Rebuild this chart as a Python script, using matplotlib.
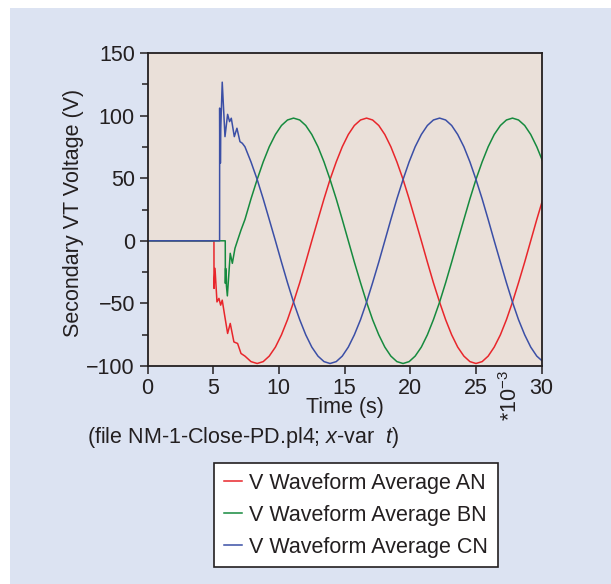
import matplotlib
matplotlib.use("Agg")
import matplotlib.pyplot as plt
from matplotlib.patches import Rectangle
from matplotlib.ticker import MultipleLocator

plt.rcParams["font.family"] = ["Liberation Sans", "DejaVu Sans"]
plt.rcParams["mathtext.fontset"] = "custom"
plt.rcParams["mathtext.rm"] = "Liberation Sans"
plt.rcParams["mathtext.it"] = "Liberation Sans:italic"

TEXT = "#231f20"
FS = 15.5

# Sample times (ms) of the settled 60 Hz part, shared by all three phases
t_steady = [7.42, 7.88, 8.35, 8.81, 9.27, 9.74, 10.20, 10.66, 11.12, 11.59,
            12.05, 12.51, 12.98, 13.44, 13.90, 14.37, 14.83, 15.29, 15.75, 16.22,
            16.68, 17.14, 17.61, 18.07, 18.53, 18.99, 19.46, 19.92, 20.38, 20.85,
            21.31, 21.77, 22.24, 22.70, 23.16, 23.62, 24.09, 24.55, 25.01, 25.48,
            25.94, 26.40, 26.87, 27.33, 27.79, 28.25, 28.72, 29.18, 29.64, 30.11]

# Phase A-N: breaker close transient, then steady state
t_an_start = [0, 5.06, 5.065, 5.14, 5.29, 5.44, 5.57, 5.69, 5.85, 6.10, 6.30,
              6.58, 6.86, 7.12]
v_an_start = [0, 0, -38, -22, -48.8, -46, -51.4, -47.4, -58, -74, -66,
              -80.8, -82, -90]
v_an_steady = [-92.1, -96.5, -98.0, -96.5, -92.1, -84.9, -75.1, -63.0, -49.0, -33.5,
               -17.0, 0.0, 17.0, 33.5, 49.0, 63.0, 75.1, 84.9, 92.1, 96.5,
               98.0, 96.5, 92.1, 84.9, 75.1, 63.0, 49.0, 33.5, 17.0, 0.0,
               -17.0, -33.5, -49.0, -63.0, -75.1, -84.9, -92.1, -96.5, -98.0, -96.5,
               -92.1, -84.9, -75.1, -63.0, -49.0, -33.5, -17.0, 0.0, 17.0, 33.5]

# Phase B-N
t_bn_start = [0, 5.92, 5.93, 5.95, 5.97, 5.99, 6.01, 6.08, 6.30, 6.46, 6.66,
              6.91, 7.12]
v_bn_start = [0, 0, -34, -22, -34, -24, -36, -44, -10, -18, -6, 2, 8.6]
v_bn_steady = [17.0, 33.5, 49.0, 63.0, 75.1, 84.9, 92.1, 96.5, 98.0, 96.5,
               92.1, 84.9, 75.1, 63.0, 49.0, 33.5, 17.0, 0.0, -17.0, -33.5,
               -49.0, -63.0, -75.1, -84.9, -92.1, -96.5, -98.0, -96.5, -92.1, -84.9,
               -75.1, -63.0, -49.0, -33.5, -17.0, 0.0, 17.0, 33.5, 49.0, 63.0,
               75.1, 84.9, 92.1, 96.5, 98.0, 96.5, 92.1, 84.9, 75.1, 63.0]

# Phase C-N
t_cn_start = [0, 5.49, 5.495, 5.51, 5.53, 5.55, 5.58, 5.69, 5.90, 6.10, 6.25,
              6.38, 6.61, 6.81, 7.04, 7.22]
v_cn_start = [0, 0, 106, 64, 100, 62, 90, 126.7, 83.2, 101, 95.2,
              97.9, 83.2, 89.9, 79.2, 77.9]
v_cn_steady = [75.1, 63.0, 49.0, 33.5, 17.0, 0.0, -17.0, -33.5, -49.0, -63.0,
               -75.1, -84.9, -92.1, -96.5, -98.0, -96.5, -92.1, -84.9, -75.1, -63.0,
               -49.0, -33.5, -17.0, 0.0, 17.0, 33.5, 49.0, 63.0, 75.1, 84.9,
               92.1, 96.5, 98.0, 96.5, 92.1, 84.9, 75.1, 63.0, 49.0, 33.5,
               17.0, 0.0, -17.0, -33.5, -49.0, -63.0, -75.1, -84.9, -92.1, -96.5]

labels = ["V Waveform Average AN", "V Waveform Average BN", "V Waveform Average CN"]
colors = ["#e8262b", "#168a3e", "#3b4fa6"]

x_ticks = [0, 5, 10, 15, 20, 25, 30]
y_ticks = [-100, -50, 0, 50, 100, 150]

W, H = 611, 584
fig = plt.figure(figsize=(W / 100, H / 100), dpi=100, facecolor="white")
fig.patches.append(Rectangle((10 / W, 0), 1 - 10 / W, 1 - 8 / H,
                             transform=fig.transFigure, facecolor="#dce3f2",
                             edgecolor="none", zorder=-10))

ax = fig.add_axes([147.5 / W, 218 / H, 394 / W, 313 / H])
ax.set_facecolor("#eae0d9")

series = [
    (t_an_start + t_steady, v_an_start + v_an_steady),
    (t_bn_start + t_steady, v_bn_start + v_bn_steady),
    (t_cn_start + t_steady, v_cn_start + v_cn_steady),
]
handles = []
for (t, v), c, lab in zip(series, colors, labels):
    h, = ax.plot(t, v, color=c, lw=1.1, label=lab)
    handles.append(h)

ax.set_xlim(0, 30)
ax.set_ylim(-100, 150)
ax.set_xticks(x_ticks)
ax.set_yticks(y_ticks)
ax.yaxis.set_minor_locator(MultipleLocator(25))
ax.tick_params(axis="both", which="major", direction="out", length=6, width=1.1,
               color=TEXT, labelcolor=TEXT, labelsize=FS, pad=3)
ax.tick_params(axis="y", which="minor", direction="out", length=4, width=1.1,
               color=TEXT)
for s in ax.spines.values():
    s.set_color(TEXT)
    s.set_linewidth(1.3)

fig.text(73 / W, 1 - 213 / H, "Secondary VT Voltage (V)", rotation=90,
         ha="center", va="center", fontsize=FS, color=TEXT)
fig.text(344.5 / W, 1 - 408 / H, "Time (s)", ha="center", va="center",
         fontsize=FS, color=TEXT)
fig.text(511 / W, 1 - 396 / H, r"*10$^{-3}$", rotation=90, ha="center",
         va="center", fontsize=FS, color=TEXT)
fig.text(87 / W, 1 - 437 / H,
         r"(file NM-1-Close-PD.pl4; $\mathit{x}$-var  $\mathit{t}$)",
         ha="left", va="center", fontsize=FS, color=TEXT)

leg = fig.legend(handles, labels, loc="upper left",
                 bbox_to_anchor=(214.3 / W, 1 - 463.3 / H),
                 bbox_transform=fig.transFigure, fontsize=FS, frameon=True,
                 fancybox=False, framealpha=1, facecolor="white",
                 edgecolor=TEXT, borderpad=0.45, handlelength=0.85,
                 handletextpad=0.32, labelspacing=0.5, borderaxespad=0)
leg.get_frame().set_linewidth(1.2)
for txt in leg.get_texts():
    txt.set_color(TEXT)

fig.savefig("out.png", dpi=100, facecolor="white")
